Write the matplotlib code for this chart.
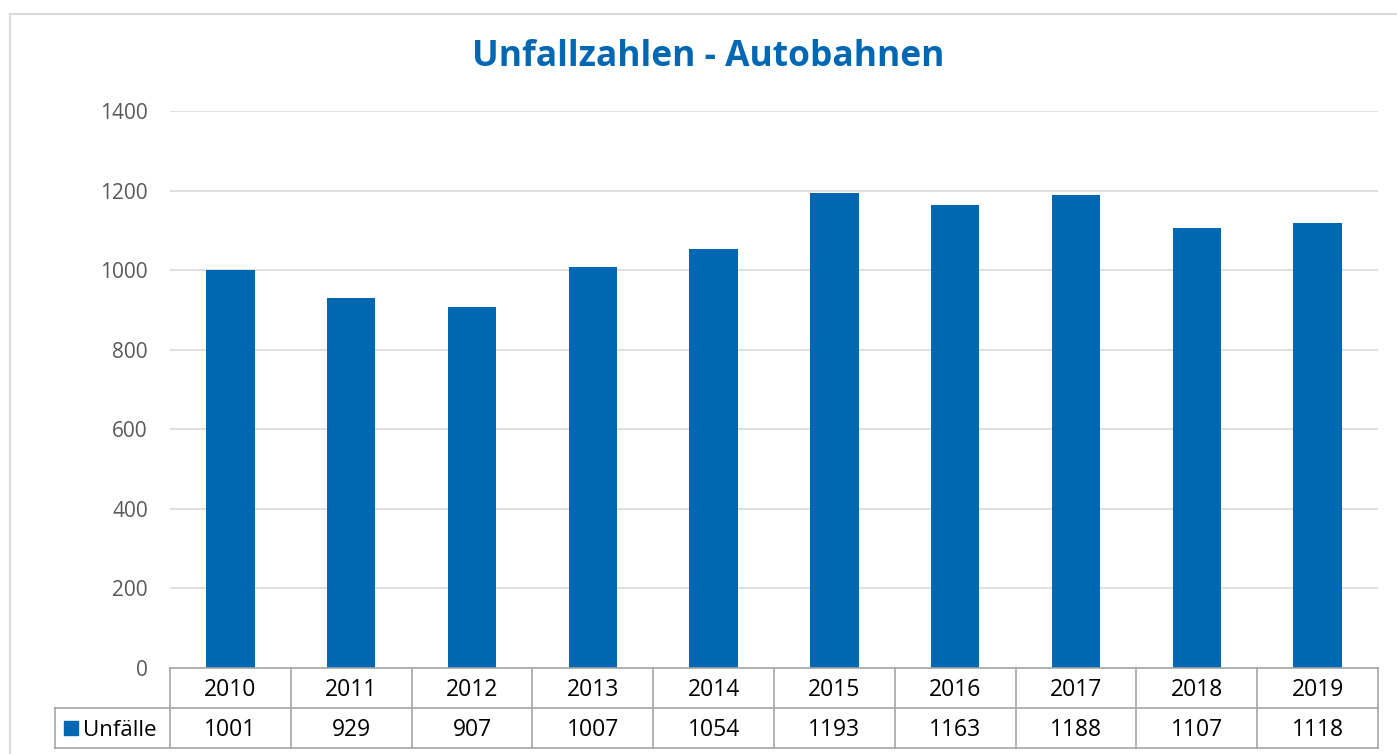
import matplotlib.pyplot as plt
from matplotlib.lines import Line2D
from matplotlib.patches import Rectangle

# Data
years = ['2010', '2011', '2012', '2013', '2014', '2015', '2016', '2017', '2018', '2019']
unfaelle = [1001, 929, 907, 1007, 1054, 1193, 1163, 1188, 1107, 1118]
series_name = 'Unfälle'
title = 'Unfallzahlen - Autobahnen'

blue = '#0068B3'
plt.rcParams['font.family'] = ['Open Sans', 'DejaVu Sans']

W, H = 1397, 754
fig = plt.figure(figsize=(W / 100, H / 100), dpi=100)

def fx(px):
    return px / W

def fy(py):
    return 1 - py / H

# plot area in pixels
left, right, top, bottom = 170, 1378, 111, 668
ax = fig.add_axes([fx(left), fy(bottom), fx(right - left), fy(top) - fy(bottom)])

x = range(len(years))
ax.bar(x, unfaelle, width=0.4, color=blue, zorder=3)
ax.set_xlim(-0.5, len(years) - 0.5)
ax.set_ylim(0, 1400)
ax.set_yticks(range(0, 1401, 200))
ax.yaxis.grid(True, color='#D9D9D9', linewidth=1.2, zorder=0)
ax.set_xticks([])
for s in ax.spines.values():
    s.set_visible(False)
ax.tick_params(axis='y', length=0, pad=16, labelsize=15, labelcolor='#595959')

# title
fig.text(fx(708), fy(57), title, ha='center', va='center', fontsize=25.5,
         fontweight='bold', color=blue)

# outer chart border (partly visible)
fig.add_artist(Line2D([fx(10), fx(10)], [fy(14), 0], color='#D9D9D9', lw=1.5))
fig.add_artist(Line2D([fx(10), 1], [fy(14), fy(14)], color='#D9D9D9', lw=1.5))

# data table
grid = '#A6A6A6'
r0, r1, r2 = 668, 708, 748
cw = (right - left) / len(years)
leg_left = 55
for yy, x0 in [(r0, left), (r1, leg_left), (r2, leg_left)]:
    fig.add_artist(Line2D([fx(x0), fx(right)], [fy(yy), fy(yy)], color=grid, lw=1.2))
for k in range(len(years) + 1):
    xx = left + k * cw
    fig.add_artist(Line2D([fx(xx), fx(xx)], [fy(r0), fy(r2)], color=grid, lw=1.2))
fig.add_artist(Line2D([fx(leg_left), fx(leg_left)], [fy(r1), fy(r2)], color=grid, lw=1.2))

for k, (yr, v) in enumerate(zip(years, unfaelle)):
    cx = left + (k + 0.5) * cw
    fig.text(fx(cx), fy((r0 + r1) / 2 + 2), yr, ha='center', va='center', fontsize=16.5, color='black')
    fig.text(fx(cx), fy((r1 + r2) / 2 + 2), str(v), ha='center', va='center', fontsize=16.5, color='black')

fig.add_artist(Rectangle((fx(64), fy(735)), fx(14), fy(721) - fy(735), color=blue))
fig.text(fx(83), fy((r1 + r2) / 2 + 2), series_name, ha='left', va='center', fontsize=16, color='black')

fig.savefig('out.png', dpi=100)
